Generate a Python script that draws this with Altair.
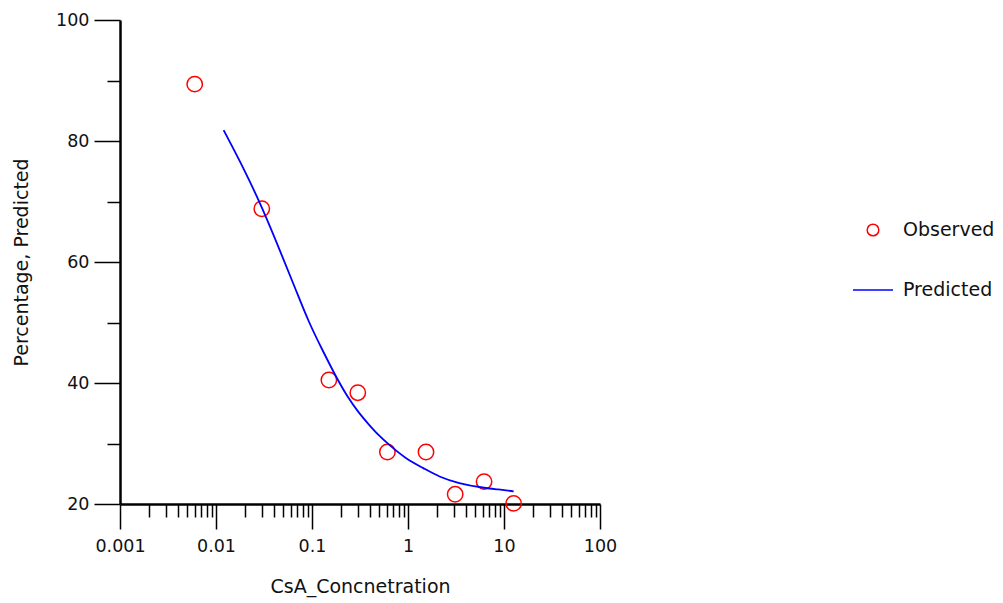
import altair as alt
import pandas as pd

# ---- data ----
series_names = ["Observed", "Predicted"]

obs_conc = [0.006, 0.03, 0.15, 0.3, 0.61, 1.54, 3.1, 6.2, 12.6]
obs_pct = [89.4, 68.8, 40.5, 38.4, 28.6, 28.6, 21.6, 23.7, 20.1]

pred_conc = [0.012, 0.0197, 0.0305, 0.0474, 0.0679, 0.0933, 0.128, 0.1766,
             0.233, 0.309, 0.393, 0.490, 0.633, 0.944, 1.46, 2.09, 3.38,
             5.90, 8.81, 12.6]
pred_pct = [81.8, 75.3, 68.9, 61.5, 55.4, 49.9, 45.5, 41.1,
            37.75, 35.0, 33.1, 31.4, 29.8, 27.5, 25.9, 24.5, 23.4,
            22.7, 22.4, 22.1]

x_decades = [0.001, 0.01, 0.1, 1, 10, 100]
x_minor_mult = [2, 3, 4, 5, 6, 7, 8, 9]
y_tick_values = [20, 30, 40, 50, 60, 70, 80, 90, 100]

x_title = "CsA_Concnetration"
y_title = "Percentage, Predicted"

# ---- tables ----
obs_df = pd.DataFrame({"conc": obs_conc, "pct": obs_pct, "series": series_names[0]})
pred_df = pd.DataFrame({"conc": pred_conc, "pct": pred_pct, "series": series_names[1]})

x_tick_values = list(x_decades) + [d * m for d in x_decades[:-1] for m in x_minor_mult]

FONT = "DejaVu Sans"
TXT = "#111111"
circle_path = "M0.29,0A0.29,0.29,0,1,1,-0.29,0A0.29,0.29,0,1,1,0.29,0Z"

major_x = f"indexof({x_decades}, datum.value) >= 0"
major_y = "datum.value % 20 == 0"

x_scale = alt.Scale(type="log", domain=[0.001, 100], nice=False)
y_scale = alt.Scale(domain=[20, 100], nice=False, zero=False)

x_axis = alt.Axis(
    values=x_tick_values,
    title=x_title,
    labelExpr=f"{major_x} ? format(datum.value, '~g') : ''",
    tickSize={"condition": {"test": major_x, "value": 25}, "value": 13},
    grid=False, labelFlush=False, labelOverlap=False,
    domainColor="black", domainWidth=2.5, tickColor="black", tickWidth=1.5,
    labelFont=FONT, labelFontSize=17.5, labelColor=TXT, labelPadding=8,
    titleFont=FONT, titleFontSize=19, titleColor=TXT, titleFontWeight="normal",
    titlePadding=23,
)
y_axis = alt.Axis(
    values=y_tick_values,
    title=y_title,
    labelExpr=f"{major_y} ? datum.label : ''",
    tickSize={"condition": {"test": major_y, "value": 26}, "value": 13},
    grid=False, labelFlush=False, labelOverlap=False,
    domainColor="black", domainWidth=2.5, tickColor="black", tickWidth=1.5,
    labelFont=FONT, labelFontSize=17.5, labelColor=TXT, labelPadding=5,
    titleFont=FONT, titleFontSize=19, titleColor=TXT, titleFontWeight="normal",
    titlePadding=24,
)

legend = alt.Legend(
    title=None, orient="none", legendX=732, legendY=189, direction="vertical",
    labelFont=FONT, labelFontSize=19, labelColor=TXT, labelOffset=9,
    rowPadding=29, symbolSize=1600, symbolStrokeWidth=1.5, padding=0,
)

color_scale = alt.Scale(domain=series_names, range=["#ff0000", "#0000ff"])
shape_scale = alt.Scale(domain=series_names, range=[circle_path, "stroke"])

points = alt.Chart(obs_df).mark_point(
    filled=False, size=2820, strokeWidth=1.5, opacity=1
).encode(
    x=alt.X("conc:Q", scale=x_scale, axis=x_axis),
    y=alt.Y("pct:Q", scale=y_scale, axis=y_axis),
    color=alt.Color("series:N", scale=color_scale, legend=legend),
    shape=alt.Shape("series:N", scale=shape_scale, legend=legend),
)

line = alt.Chart(pred_df).mark_line(
    strokeWidth=1.8, interpolate="basis"
).encode(
    x=alt.X("conc:Q", scale=x_scale, axis=x_axis),
    y=alt.Y("pct:Q", scale=y_scale, axis=y_axis),
    color=alt.Color("series:N", scale=color_scale, legend=legend),
)

chart = alt.layer(points, line).properties(
    width=480, height=484,
    padding={"left": 120, "top": 20, "right": 403, "bottom": 99},
    autosize=alt.AutoSizeParams(type="none"),
).configure_view(stroke=None)

chart.save("out.html", embed_options={"renderer": "svg", "actions": False})
